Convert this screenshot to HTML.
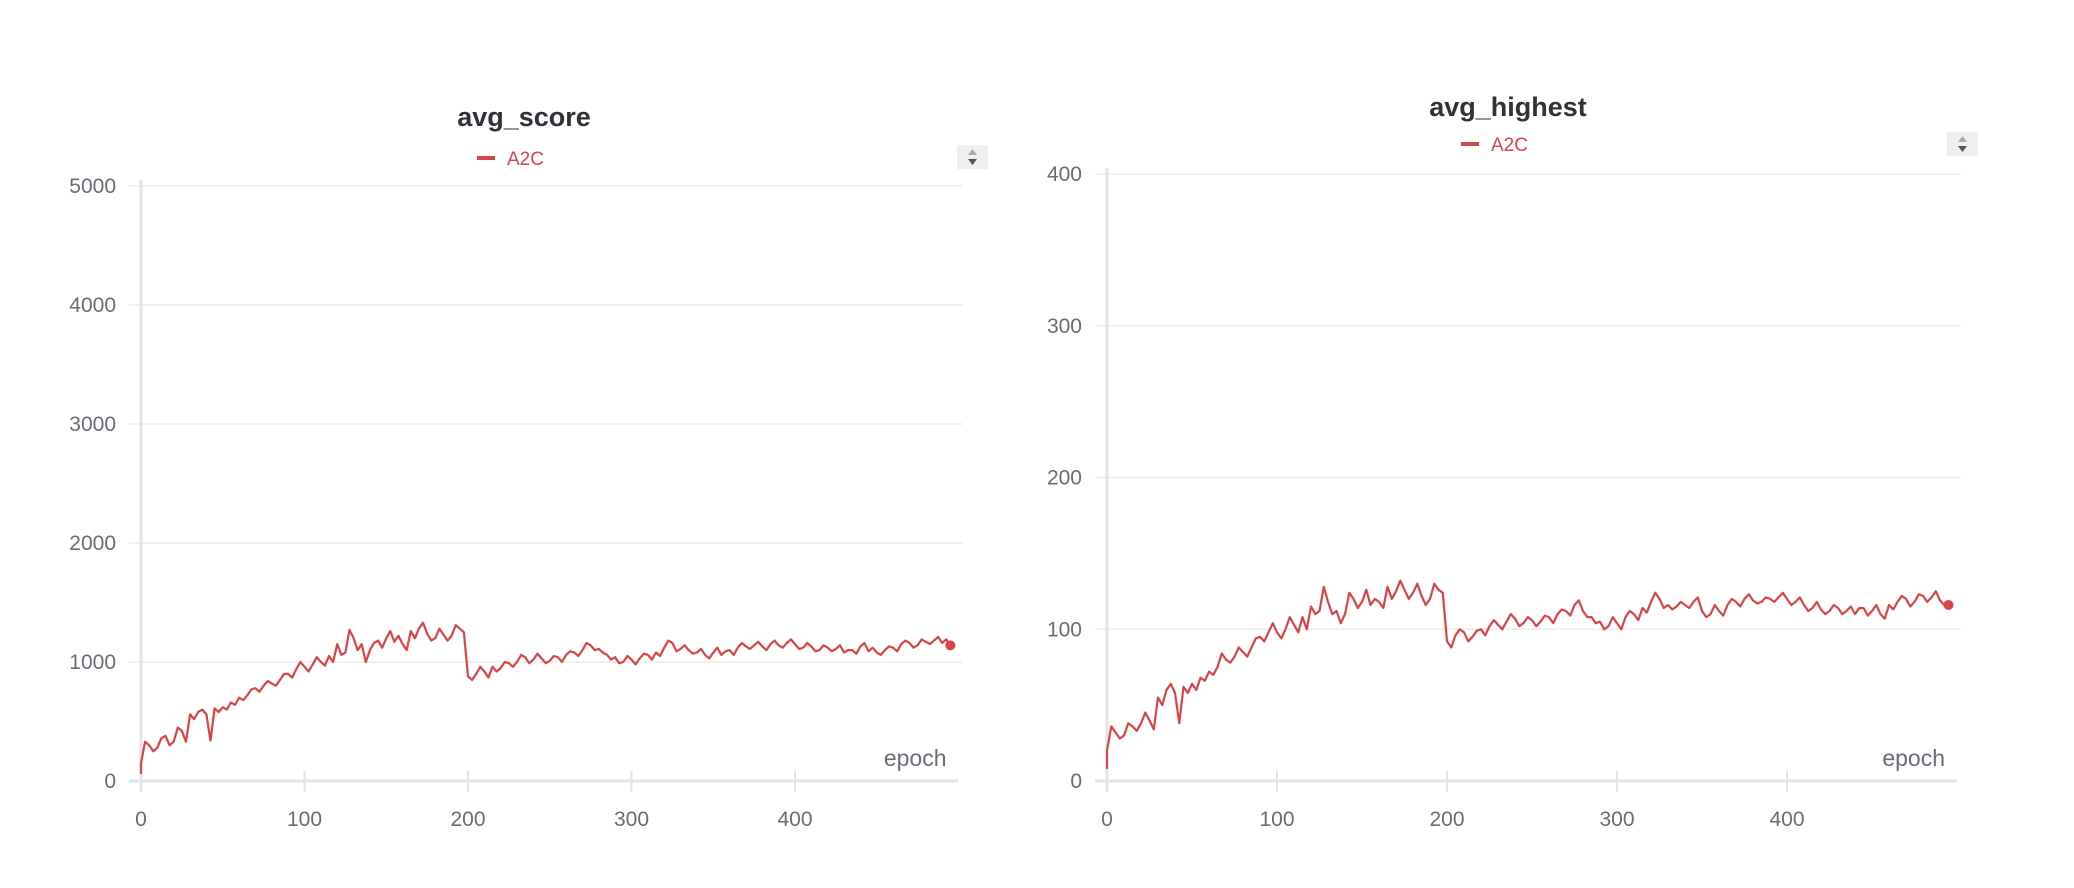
<!DOCTYPE html>
<html><head><meta charset="utf-8">
<style>
html,body{margin:0;padding:0;background:#fff;}
body{width:2074px;height:883px;overflow:hidden;font-family:"Liberation Sans",sans-serif;}
svg text{font-family:"Liberation Sans",sans-serif;}
</style></head>
<body>
<svg id="root" width="2074" height="883" viewBox="0 0 2074 883" xmlns="http://www.w3.org/2000/svg"></svg>
<script>
const epochsStep = 2.5;
const scoreValues = [150,330,300,250,280,360,380,300,330,450,420,330,560,520,580,600,560,340,610,580,620,600,660,640,700,680,720,770,780,750,800,840,820,800,850,900,900,870,940,1000,960,920,980,1040,1000,970,1050,1000,1150,1060,1080,1270,1200,1100,1150,1000,1100,1160,1180,1120,1200,1260,1170,1220,1150,1100,1260,1200,1280,1330,1240,1180,1200,1280,1230,1180,1220,1310,1280,1250,880,850,900,960,920,870,960,920,950,1000,990,960,1000,1060,1040,990,1020,1070,1030,990,1010,1050,1040,1000,1060,1090,1080,1050,1100,1160,1140,1100,1110,1080,1060,1020,1040,990,1000,1050,1020,980,1030,1070,1060,1020,1080,1050,1120,1180,1160,1090,1110,1140,1100,1070,1080,1110,1060,1030,1080,1120,1060,1090,1100,1060,1120,1160,1130,1110,1140,1170,1130,1100,1150,1180,1140,1120,1160,1190,1150,1110,1120,1160,1130,1090,1100,1140,1120,1090,1110,1140,1080,1100,1100,1070,1130,1160,1090,1120,1080,1060,1100,1130,1120,1090,1150,1180,1160,1120,1140,1190,1170,1150,1180,1210,1160,1190,1140];
const highestValues = [20,36,32,28,30,38,36,33,38,45,40,34,55,50,60,64,58,38,62,58,64,60,68,66,72,70,75,84,80,78,82,88,85,82,88,94,95,92,98,104,98,94,100,108,103,98,108,100,115,110,112,128,118,110,112,104,110,124,120,114,118,126,116,120,118,114,128,120,125,132,126,120,124,130,122,116,120,130,126,124,92,88,96,100,98,92,95,99,100,96,102,106,103,100,105,110,107,102,104,108,106,102,105,109,108,104,110,113,112,109,116,119,112,108,108,104,105,100,102,108,104,100,108,112,110,106,114,111,118,124,120,114,116,113,115,118,116,114,118,121,112,108,110,116,112,109,116,120,118,115,120,123,119,117,118,121,120,118,121,124,120,116,118,121,116,112,114,118,113,110,112,116,114,110,112,115,110,114,114,109,112,116,110,107,116,113,118,122,120,115,118,123,122,118,121,125,119,116,116];
const xTicks = [0,100,200,300,400];
const scoreTicks = [0,1000,2000,3000,4000,5000];
const highestTicks = [0,100,200,300,400];

const NS = "http://www.w3.org/2000/svg";
const root = document.getElementById('root');
function mk(tag, attrs, parent){const e=document.createElementNS(NS,tag);for(const k in attrs)e.setAttribute(k,attrs[k]);(parent||root).appendChild(e);return e;}

function drawChart(cfg){
  const g = mk('g',{});
  
  
  const xs = v => cfg.x0 + (v/100)*cfg.per100;
  const ys = v => cfg.y0 - (v/cfg.yMax)*(cfg.y0-cfg.yTop);
  const xEnd = xs(500);
  const t = mk('text',{x:cfg.titleX,y:cfg.titleY,'text-anchor':'middle','font-size':27,'font-weight':'bold',fill:'#2f3237'},g);
  t.textContent = cfg.title;
  
  
  const lg = mk('g',{},g);
  
  
  mk('rect',{x:cfg.titleX-47,y:cfg.legY-2,width:18,height:4,fill:'#d94545'},lg);
  const lt = mk('text',{x:cfg.titleX-17,y:cfg.legY+7,'font-size':19,fill:'#d94545'},lg);
  lt.textContent='A2C';
  const w = mk('g',{},g);
  
  
  mk('rect',{x:cfg.wX,y:cfg.wY,width:31,height:24,fill:'#efefef'},w);
  mk('path',{d:`M${cfg.wX+11} ${cfg.wY+10} L${cfg.wX+15.5} ${cfg.wY+4} L${cfg.wX+20} ${cfg.wY+10}Z`,fill:'#aaa'},w);
  mk('path',{d:`M${cfg.wX+11} ${cfg.wY+14} L${cfg.wX+15.5} ${cfg.wY+20} L${cfg.wX+20} ${cfg.wY+14}Z`,fill:'#555'},w);
  cfg.yTicks.forEach(v=>{
    const y=ys(v);
    if(v>0){const gl=mk('line',{x1:cfg.x0-12,x2:xEnd+4,y1:y,y2:y,stroke:'#ececec','stroke-width':1.5},g);
      }
    const tl=mk('text',{x:cfg.x0-25,y:y+7,'text-anchor':'end','font-size':21,fill:'#6b6b76'},g);
    tl.textContent=v;
    
  });
  const ya=mk('line',{x1:cfg.x0,x2:cfg.x0,y1:cfg.yTop-6,y2:cfg.y0+10,stroke:'#e4e4e6','stroke-width':3},g);
  
  const xa=mk('line',{x1:cfg.x0-12,x2:xEnd,y1:cfg.y0,y2:cfg.y0,stroke:'#e4e4e6','stroke-width':3},g);
  
  xTicks.forEach(v=>{
    const x=xs(v);
    mk('line',{x1:x,x2:x,y1:cfg.y0-10,y2:cfg.y0+11,stroke:'#e4e4e6','stroke-width':2},g);
    const tl=mk('text',{x:x,y:cfg.y0+45,'text-anchor':'middle','font-size':21,fill:'#6b6b76'},g);
    tl.textContent=v;
    
  });
  const xt=mk('text',{x:xEnd-12,y:cfg.y0-15,'text-anchor':'end','font-size':23,fill:'#6b6b76'},g);
  xt.textContent='epoch';
  
  const pts = cfg.values.map((v,i)=>xs(i*epochsStep).toFixed(1)+','+ys(v).toFixed(1));
  pts.unshift(xs(0).toFixed(1)+','+ys(cfg.start).toFixed(1));
  const pl=mk('polyline',{points:pts.join(' '),fill:'none',stroke:'#d94545','stroke-width':2.2,'stroke-linejoin':'round'},g);
  
  const last=cfg.values.length-1;
  const dot=mk('circle',{cx:xs(last*epochsStep),cy:ys(cfg.values[last]),r:5,fill:'#d94545'},g);
  
}

drawChart({name:'avg-score-chart',title:'avg_score',values:scoreValues,start:60,yTicks:scoreTicks,yMax:5000,
  x0:141,per100:163.5,y0:781,yTop:186,titleX:524,titleY:126,legY:158,wX:957,wY:145});
drawChart({name:'avg-highest-chart',title:'avg_highest',values:highestValues,start:8,yTicks:highestTicks,yMax:400,
  x0:1107,per100:170,y0:781,yTop:174,titleX:1508,titleY:116,legY:144,wX:1947,wY:132});
</script>
</body></html>
